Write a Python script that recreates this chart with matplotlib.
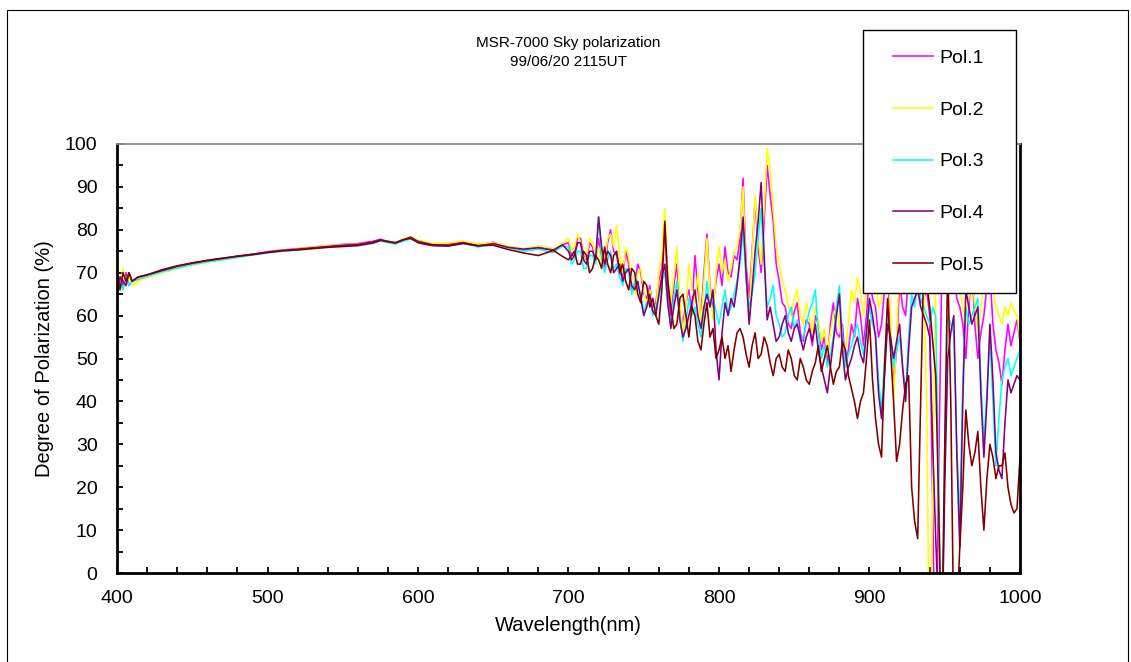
import matplotlib
matplotlib.use("Agg")
import matplotlib.pyplot as plt
from matplotlib.lines import Line2D
from matplotlib.legend_handler import HandlerLine2D
from matplotlib.patches import Rectangle
import numpy as np

plt.rcParams['font.family'] = ['Liberation Sans', 'DejaVu Sans']

# Wavelength grid (nm): coarse over the smooth visible part, 2 nm over the noisy red/NIR part
wl_vis = [400, 402, 404, 406, 408, 410, 414, 420, 430, 440, 450, 460, 470, 480, 490,
          500, 510, 520, 530, 540, 550, 560, 570, 575, 580, 585, 590, 595, 600, 605,
          610, 620, 630, 640, 650, 660, 670, 680, 690, 696]
wl_nir = list(range(700, 1001, 2))
wavelength = wl_vis + wl_nir

# Degree of polarization (%) for the five polarizer settings
pol1_vis = [66, 69, 67, 70, 67, 68, 68.5, 69, 70.3, 71.2, 72, 72.6, 73.2, 73.8, 74.3,
            74.9, 75.3, 75.6, 76.0, 76.3, 76.6, 76.8, 77.3, 77.8, 77.3, 77.0, 77.6, 78.2, 77.4, 77.0,
            76.5, 76.6, 77.2, 76.4, 77.1, 76.0, 75.3, 76.0, 75.1, 76.5]
pol1_nir = [77, 74, 74, 78, 78, 74, 73, 77, 76, 73,
            78, 73, 71, 77, 80, 75, 74, 70, 69, 75,
            72, 66, 67, 72, 70, 65, 64, 67, 62, 63,
            68, 71, 80, 66, 60, 67, 72, 62, 58, 63,
            66, 61, 74, 66, 60, 70, 79, 67, 62, 68,
            72, 67, 76, 70, 69, 74, 73, 78, 92, 72,
            64, 75, 87, 76, 70, 82, 95, 88, 82, 72,
            68, 63, 62, 58, 57, 61, 63, 56, 54, 59,
            58, 53, 60, 58, 52, 55, 49, 58, 63, 56,
            55, 58, 49, 52, 58, 55, 64, 60, 53, 60,
            70, 64, 62, 55, 58, 66, 72, 56, 44, 52,
            68, 62, 60, 70, 75, 68, 70, 63, 64, 66,
            60, 15, -30, 25, 70, 76, 75, 70, 70, 64,
            62, 58, 50, 62, 72, 58, 50, 56, 60, 67,
            70, 58, 52, 49, 44, 52, 58, 53, 56, 59,
            54]

pol2_vis = [70, 66, 71, 67, 69, 67, 68, 69, 70, 71, 71.8, 72.4, 73.0, 73.6, 74.2,
            74.8, 75.2, 75.6, 76.0, 76.3, 76.5, 76.7, 77.1, 77.6, 77.2, 77.1, 77.8, 78.4, 77.6, 77.2,
            76.8, 76.9, 77.4, 76.7, 77.0, 76.2, 75.6, 76.3, 75.6, 76.9]
pol2_nir = [78, 75, 76, 79, 77, 73, 74, 78, 77, 74,
            76, 72, 73, 78, 79, 76, 81, 74, 70, 76,
            74, 68, 65, 70, 71, 66, 62, 66, 63, 61,
            70, 74, 85, 70, 63, 69, 76, 64, 56, 62,
            72, 66, 63, 70, 58, 68, 78, 66, 59, 70,
            76, 70, 73, 68, 71, 75, 76, 80, 90, 70,
            59, 74, 88, 78, 72, 85, 99, 94, 85, 76,
            72, 68, 66, 62, 60, 64, 66, 60, 58, 63,
            60, 56, 62, 59, 54, 57, 51, 56, 60, 62,
            58, 54, 52, 58, 66, 63, 69, 65, 60, 66,
            75, 70, 68, 62, 64, 72, 78, 60, 40, 55,
            74, 68, 66, 73, 80, 75, 72, 68, 70, 40,
            -30, 20, 72, 76, 70, 74, 78, 72, 74, 68,
            66, 62, 58, 64, 70, 62, 56, 62, 68, 72,
            74, 66, 62, 60, 58, 62, 60, 63, 61, 60,
            55]

pol3_vis = [65, 68, 66, 69, 67, 68, 68.5, 69.2, 70.2, 71.1, 71.9, 72.5, 73.0, 73.6, 74.1,
            74.6, 75.0, 75.3, 75.7, 76.0, 76.3, 76.5, 76.9, 77.4, 77.0, 76.7, 77.3, 77.9, 77.1, 76.7,
            76.4, 76.3, 76.8, 76.0, 76.6, 75.8, 75.0, 75.5, 74.7, 76.2]
pol3_nir = [76, 72, 73, 75, 75, 71, 71, 74, 74, 72,
            83, 74, 70, 73, 75, 71, 72, 69, 67, 71,
            70, 65, 68, 67, 65, 61, 63, 64, 60, 62,
            64, 68, 70, 62, 58, 64, 68, 60, 54, 58,
            64, 60, 62, 58, 55, 61, 68, 62, 64, 61,
            58, 62, 66, 60, 62, 65, 68, 72, 80, 68,
            62, 65, 70, 78, 85, 72, 62, 64, 67, 60,
            58, 55, 56, 60, 62, 57, 59, 54, 55, 58,
            61, 63, 66, 56, 50, 53, 48, 51, 55, 62,
            67, 55, 48, 51, 53, 56, 58, 54, 51, 57,
            62, 58, 56, 45, 38, 50, 60, 54, 48, 52,
            55, 48, 42, 55, 65, 62, 68, 64, 62, 60,
            58, 62, 60, 20, -25, 30, 60, 58, 56, 30,
            12, 45, 62, 58, 60, 62, 64, 45, 30, 42,
            55, 40, 25, 36, 45, 48, 50, 46, 48, 50,
            52]

pol4_vis = [64, 69, 68, 67, 70, 68, 69, 69.5, 70.5, 71.5, 72.2, 72.8, 73.3, 73.9, 74.3,
            74.8, 75.2, 75.5, 75.8, 76.1, 76.4, 76.6, 77.2, 77.7, 77.2, 76.9, 77.6, 78.3, 77.3, 76.9,
            76.5, 76.4, 77.0, 76.2, 76.8, 75.9, 75.5, 75.8, 75.3, 76.5]
pol4_nir = [75, 73, 74, 77, 77, 73, 72, 75, 75, 73,
            83, 76, 72, 75, 74, 70, 71, 72, 68, 70,
            71, 67, 66, 68, 64, 60, 62, 65, 61, 60,
            65, 69, 72, 63, 57, 62, 66, 59, 55, 57,
            60, 63, 66, 60, 57, 62, 65, 62, 66, 52,
            45, 56, 63, 60, 64, 62, 67, 74, 83, 70,
            58, 66, 75, 82, 91, 74, 59, 62, 58, 54,
            55, 58, 60, 56, 54, 57, 58, 55, 52, 55,
            57, 54, 58, 52, 48, 45, 42, 48, 54, 60,
            65, 52, 45, 48, 50, 53, 55, 51, 49, 56,
            64, 60, 55, 42, 36, 46, 58, 55, 50, 54,
            58, 48, 40, 52, 62, 64, 66, 62, 60, 58,
            55, 30, 8, -10, -20, 20, 50, 56, 60, 28,
            6, 40, 66, 62, 58, 60, 62, 42, 27, 40,
            58, 45, 28, 24, 22, 35, 45, 42, 44, 46,
            45]

pol5_vis = [69, 66, 70, 68, 70, 68, 69, 69.5, 70.7, 71.6, 72.3, 72.9, 73.4, 73.8, 74.2,
            74.7, 75.1, 75.3, 75.6, 75.9, 76.1, 76.3, 76.9, 77.5, 77.3, 77.0, 77.7, 78.0, 77.0, 76.6,
            76.3, 76.2, 76.8, 76.3, 76.4, 75.4, 74.6, 74.0, 75.2, 73.8]
pol5_nir = [73, 74, 75, 72, 72, 75, 74, 70, 71, 74,
            73, 71, 76, 72, 70, 74, 75, 70, 72, 68,
            66, 71, 70, 65, 63, 68, 67, 62, 64, 60,
            58, 66, 82, 68, 62, 57, 58, 64, 65, 60,
            55, 62, 60, 54, 52, 58, 63, 55, 57, 50,
            52, 55, 50, 53, 47, 52, 56, 57, 55, 51,
            48, 53, 56, 50, 51, 55, 53, 49, 46, 50,
            51, 48, 47, 52, 50, 46, 45, 50, 48, 45,
            44, 47, 49, 53, 47, 50, 53, 48, 44, 47,
            48, 54, 52, 46, 43, 40, 36, 40, 42, 50,
            59, 45, 36, 30, 27, 48, 64, 52, 40, 26,
            30, 38, 44, 46, 20, 12, 8, 40, 72, 68,
            62, 54, 46, 15, -20, 30, 72, 40, -15, -10,
            6, 20, 38, 30, 25, 28, 33, 20, 10, 22,
            30, 27, 22, 25, 25, 28, 20, 16, 14, 15,
            27]

series = [("Pol.1", pol1_vis + pol1_nir, "#FF00FF"),
          ("Pol.2", pol2_vis + pol2_nir, "#FFFF00"),
          ("Pol.3", pol3_vis + pol3_nir, "#00FFFF"),
          ("Pol.4", pol4_vis + pol4_nir, "#800080"),
          ("Pol.5", pol5_vis + pol5_nir, "#800000")]

W, H = 1131, 662
fig = plt.figure(figsize=(W / 100, H / 100), dpi=100)

# outer chart frame
fig.patches.append(Rectangle((7 / W, -0.05), 1121 / W, 1.05 - 10 / H,
                             transform=fig.transFigure, fill=False,
                             edgecolor="black", linewidth=0.8))

ax = fig.add_axes([117 / W, 1 - 573 / H, 903 / W, 429 / H])

for name, vals, col in series:
    ax.plot(wavelength, vals, color=col, linewidth=1.15, label=name)

ax.set_xlim(400, 1000)
ax.set_ylim(0, 100)
ax.set_xticks(np.arange(400, 1001, 100))
ax.set_xticks(np.arange(400, 1001, 20), minor=True)
ax.set_yticks(np.arange(0, 101, 10))
ax.set_yticks(np.arange(0, 101, 5), minor=True)
ax.tick_params(axis="both", which="both", direction="in", length=4.5, width=1.3,
               color="black")
ax.tick_params(axis="x", which="major", labelsize=14, pad=12)
ax.tick_params(axis="y", which="major", labelsize=14, pad=14)

for side in ("left", "bottom", "right"):
    ax.spines[side].set_linewidth(2.0)
    ax.spines[side].set_color("black")
ax.spines["top"].set_color("#8c8c8c")
ax.spines["top"].set_linewidth(1.3)

ax.set_xlabel("Wavelength(nm)", fontsize=14.5, labelpad=7)
ax.set_ylabel("Degree of Polarization (%)", fontsize=14.5, labelpad=8)

fig.text(568 / W, 1 - 52.5 / H, "MSR-7000 Sky polarization\n99/06/20 2115UT",
         ha="center", va="center", fontsize=11, linespacing=1.45)

fs = 14
leg = ax.legend(loc="upper left",
                bbox_to_anchor=(863 / W, 1 - 290 / H, 153 / W, 260 / H),
                bbox_transform=fig.transFigure, mode="expand", borderaxespad=0,
                fontsize=fs, frameon=True, fancybox=False, framealpha=1,
                edgecolor="black", borderpad=1.0, labelspacing=1.75,
                handlelength=2.6, handletextpad=0.35,
                handler_map={Line2D: HandlerLine2D(xpad=0.55)})
leg.get_frame().set_linewidth(1.0)

fig.savefig("out.png", dpi=100)
